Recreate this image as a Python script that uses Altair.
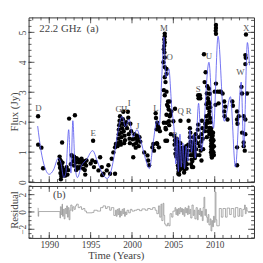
import altair as alt
import pandas as pd

# ---------------- data ----------------
obs_1988_1990 = [(1988.65, 2.20), (1988.66, 1.25), (1989.05, 1.15), (1989.25, 0.46)]

obs_1991_1992 = [(1991.25, 0.85), (1991.3, 0.75), (1991.4, 0.70), (1991.5, 0.62), (1991.35, 0.55),
                 (1991.3, 0.48), (1991.55, 0.50), (1991.45, 0.40), (1991.7, 0.42), (1991.35, 0.30),
                 (1991.8, 0.32), (1991.9, 0.36), (1991.75, 0.22), (1991.45, 0.20), (1991.95, 0.22),
                 (1991.4, 0.09), (1991.55, 1.32), (1991.6, 0.65), (1991.2, 0.62), (1992.1, 0.50),
                 (1992.3, 0.40), (1992.2, 0.25)]

obs_1992_1994 = [(1992.4, 2.12), (1993.1, 2.23), (1992.7, 0.90), (1992.8, 0.85), (1993.0, 0.85),
                 (1993.1, 0.75), (1993.3, 0.80), (1993.5, 0.75), (1993.2, 0.65), (1993.6, 0.65),
                 (1993.8, 0.70), (1993.9, 0.78), (1994.0, 0.60), (1994.2, 0.70), (1994.3, 0.62),
                 (1993.7, 0.50), (1994.1, 0.45), (1994.3, 0.40), (1994.35, 0.25), (1993.0, 0.55),
                 (1993.4, 0.50), (1992.9, 0.70), (1994.5, 0.72), (1993.55, 0.46), (1993.25, 0.40),
                 (1994.45, 0.55), (1992.6, 0.60)]

obs_1995_1998 = [(1995.3, 1.38), (1995.0, 0.62), (1995.6, 0.67), (1995.4, 0.50), (1995.95, 0.39),
                 (1996.35, 0.50), (1996.15, 0.83), (1996.55, 0.28), (1996.95, 0.39), (1997.15, 0.56),
                 (1997.35, 0.28), (1997.55, 0.78), (1997.75, 0.99), (1997.95, 1.16), (1998.05, 1.27),
                 (1997.95, 0.28), (1996.4, 0.23), (1995.2, 0.72)]

obs_1998_2000 = [(1998.3, 1.30), (1998.35, 1.45), (1998.4, 1.60), (1998.4, 1.75), (1998.45, 1.90),
                 (1998.5, 2.05), (1998.55, 2.20), (1998.6, 1.35), (1998.7, 1.50), (1998.75, 1.65),
                 (1998.8, 1.80), (1998.85, 1.95), (1998.9, 2.10), (1998.95, 2.35), (1999.0, 1.70),
                 (1999.1, 1.55), (1999.15, 1.40), (1999.2, 1.90), (1999.3, 2.00), (1999.4, 1.80),
                 (1999.5, 2.35), (1999.55, 2.15), (1999.6, 1.60), (1999.7, 1.45), (1999.75, 1.30),
                 (1999.8, 1.95), (1999.9, 1.70), (1998.25, 1.20), (1998.65, 1.25), (1999.05, 1.30),
                 (2000.1, 1.43), (2000.15, 0.83)]

obs_2000_2003 = [(2000.3, 1.60), (2000.4, 1.45), (2000.5, 1.30), (2000.6, 1.55), (2000.7, 1.40),
                 (2000.8, 1.20), (2000.9, 1.50), (2001.0, 1.35), (2000.45, 1.15), (2000.2, 1.25),
                 (2001.48, 0.99), (2001.87, 0.89), (2001.95, 0.72), (2002.07, 0.56), (2002.46, 1.16),
                 (2002.58, 1.27), (2002.66, 1.05), (2002.86, 2.30), (2002.9, 2.14), (2003.05, 1.98),
                 (2003.14, 1.87), (2003.25, 1.81), (2002.98, 1.76), (2003.37, 1.70), (2003.05, 1.27),
                 (2003.25, 1.16), (2003.0, 1.30)]

obs_2003_2005 = [(2003.96, 4.96), (2003.96, 4.87), (2003.9, 4.76), (2003.96, 4.66), (2003.9, 4.55),
                 (2003.85, 4.44), (2003.92, 4.33), (2003.96, 4.16), (2003.8, 4.00), (2003.96, 3.84),
                 (2004.17, 3.78), (2004.17, 3.62), (2003.96, 3.50), (2004.05, 3.34), (2003.85, 3.07),
                 (2003.96, 2.90), (2004.17, 3.02), (2004.36, 2.69), (2004.56, 2.69), (2004.36, 2.52),
                 (2004.76, 2.36), (2004.56, 2.20), (2004.17, 2.25), (2004.46, 2.03), (2004.17, 1.98),
                 (2004.1, 1.76), (2004.24, 1.38), (2004.04, 1.38), (2004.24, 2.58), (2004.44, 2.42),
                 (2004.64, 2.25), (2005.2, 2.45), (2003.85, 1.98), (2004.05, 1.81), (2005.0, 2.03),
                 (2004.5, 1.90), (2004.7, 1.60)]

obs_2005_2008 = [(2005.86, 2.05), (2006.84, 2.05),
                 (2005.1, 1.55), (2005.2, 1.40), (2005.15, 1.25), (2005.3, 1.10), (2005.25, 0.95),
                 (2005.35, 0.85), (2005.3, 1.30), (2005.4, 1.45),
                 (2005.5, 1.35), (2005.55, 1.20), (2005.5, 1.05), (2005.6, 0.95), (2005.55, 0.85),
                 (2005.6, 0.75), (2005.65, 0.65), (2005.55, 0.55), (2005.6, 0.45), (2005.65, 0.35),
                 (2005.6, 0.28), (2005.7, 0.25), (2005.75, 0.40), (2005.8, 0.55), (2005.75, 0.70),
                 (2005.85, 0.85), (2005.8, 1.00), (2005.9, 1.15), (2005.85, 1.30), (2005.95, 0.75),
                 (2006.0, 0.60), (2006.05, 0.90), (2005.95, 0.45), (2006.1, 1.10), (2005.7, 1.10),
                 (2005.65, 0.95),
                 (2006.2, 1.15), (2006.25, 1.00), (2006.2, 0.85), (2006.3, 0.70), (2006.25, 0.55),
                 (2006.35, 0.42), (2006.3, 0.32), (2006.4, 0.50), (2006.45, 0.65), (2006.4, 0.80),
                 (2006.5, 0.95), (2006.45, 1.10), (2006.55, 1.20), (2006.6, 0.75), (2006.65, 0.60),
                 (2006.7, 0.90), (2006.75, 1.05), (2006.8, 1.25), (2006.6, 0.45),
                 (2007.0, 1.80), (2007.05, 1.65), (2007.0, 1.50), (2007.1, 1.35), (2007.05, 1.20),
                 (2007.15, 1.05), (2007.1, 0.90), (2007.2, 0.75), (2007.15, 0.60), (2007.25, 0.50),
                 (2007.3, 0.70), (2007.35, 0.90), (2007.3, 1.10), (2007.4, 1.30), (2007.45, 1.50),
                 (2007.5, 1.20), (2007.55, 1.00), (2007.6, 0.80), (2007.65, 1.40), (2007.7, 1.60),
                 (2007.75, 1.10), (2007.8, 0.90), (2007.4, 0.50)]

obs_2008_2009 = [(2008.0, 2.90), (2008.05, 2.80), (2008.2, 2.90), (2008.25, 2.80), (2008.0, 1.92),
                 (2008.4, 1.60), (2008.6, 1.10), (2008.4, 0.72), (2007.9, 1.30), (2008.1, 1.50),
                 (2008.2, 1.20), (2008.3, 1.05), (2008.15, 0.90), (2008.35, 1.35), (2008.5, 1.80),
                 (2008.55, 1.45), (2008.45, 2.05), (2007.95, 1.75),
                 (2008.7, 4.27), (2008.9, 3.67), (2008.78, 3.34), (2009.05, 2.96), (2009.3, 3.12),
                 (2009.17, 2.80), (2009.37, 2.63), (2009.17, 2.47), (2009.37, 2.36), (2008.97, 2.20),
                 (2009.45, 2.14), (2009.17, 1.98), (2009.37, 1.81), (2008.97, 1.84), (2008.78, 1.70),
                 (2009.37, 1.60), (2009.0, 2.60), (2009.1, 3.20), (2009.25, 2.70), (2009.3, 2.25),
                 (2009.1, 2.05), (2009.2, 1.70), (2009.05, 1.50), (2008.85, 1.95), (2009.45, 2.50),
                 (2009.4, 2.95)]

obs_2009_2010 = [(2009.55, 1.80), (2009.6, 1.70), (2009.55, 1.60), (2009.6, 1.50), (2009.55, 1.40),
                 (2009.6, 1.30), (2009.55, 1.20), (2009.6, 1.10), (2009.55, 1.00), (2009.6, 0.90),
                 (2009.7, 0.85), (2009.75, 0.95), (2009.7, 1.05), (2009.75, 1.15), (2009.7, 1.25),
                 (2009.75, 1.35), (2009.7, 1.45), (2009.75, 1.55), (2009.8, 1.65), (2009.85, 1.00),
                 (2009.9, 1.20), (2009.85, 1.40), (2009.9, 0.90), (2009.5, 2.00), (2009.65, 0.82),
                 (2010.15, 5.25), (2010.15, 5.15), (2010.12, 5.05), (2010.15, 4.95), (2010.15, 3.29),
                 (2010.35, 3.02), (2010.6, 3.02), (2010.0, 3.02), (2010.47, 2.63), (2010.75, 3.02),
                 (2010.95, 2.96), (2010.1, 2.58)]

obs_2011_2014 = [(2011.15, 2.69), (2011.27, 2.52), (2011.15, 2.36), (2011.54, 2.09), (2012.13, 2.69),
                 (2012.9, 2.20), (2013.23, 3.18), (2013.3, 2.96), (2013.5, 2.20), (2013.31, 1.65),
                 (2013.5, 1.32), (2013.5, 1.20), (2013.63, 1.05), (2013.7, 4.24), (2013.75, 4.15),
                 (2013.7, 3.94), (2013.78, 4.93), (2013.9, 2.96), (2012.7, 0.56), (2012.7, 2.36),
                 (2012.7, 2.09), (2012.7, 1.16), (2013.7, 2.09), (2013.7, 1.60), (2012.2, 2.55),
                 (2011.2, 2.20), (2012.75, 1.95)]

model_year = [1988.6, 1989.0, 1989.45, 1990.0, 1990.5, 1991.1, 1991.4, 1991.75, 1992.0, 1992.35,
              1992.55, 1992.62, 1992.85, 1993.1, 1993.4, 1993.9, 1994.5, 1995.25, 1995.8, 1996.4,
              1997.0, 1997.4, 1997.8, 1998.3, 1998.8, 1999.2, 1999.65, 2000.1, 2000.6, 2001.0,
              2001.6, 2002.1, 2002.6, 2003.0, 2003.3, 2003.6, 2003.85, 2004.1, 2004.45, 2004.8,
              2005.15, 2005.3, 2005.45, 2005.6, 2005.8, 2005.95, 2006.15, 2006.35, 2006.55, 2006.75,
              2007.0, 2007.2, 2007.45, 2007.65, 2008.05, 2008.4, 2009.3, 2009.85, 2010.4, 2011.15,
              2011.9, 2012.5, 2013.2, 2013.5, 2013.95, 2014.2]
model_flux = [1.87, 1.05, 0.50, 0.26, 0.40, 0.80, 0.65, 0.15, 0.30, 1.75,
              0.50, 0.30, 2.05, 0.60, 0.15, 0.55, 0.75, 1.05, 0.70, 0.30,
              0.12, 0.30, 0.80, 1.70, 2.20, 1.85, 2.10, 1.50, 1.75, 1.45,
              0.80, 0.45, 1.40, 2.05, 1.90, 3.50, 4.85, 3.50, 3.78, 2.50,
              1.50, 0.60, 1.50, 0.35, 1.60, 0.50, 1.30, 0.45, 1.20, 0.70,
              1.75, 1.00, 1.60, 0.80, 2.63, 1.05, 4.00, 1.80, 4.87, 2.03,
              2.85, 0.50, 3.34, 1.16, 4.66, 3.90]

res_year = [1988.62, 1988.66, 1988.72, 1991.25, 1991.3, 1991.35, 1991.45, 1991.55, 1991.6, 1991.7,
            1991.8, 1991.9, 1992.0, 1992.1, 1992.2, 1992.3, 1992.4, 1992.5, 1992.6, 1992.75,
            1992.85, 1993.0, 1993.15, 1993.3, 1993.5, 1993.7, 1993.9, 1994.1, 1994.3, 1994.5,
            1995.2, 1995.4, 1995.8, 1996.2, 1996.5, 1996.8, 1997.0, 1997.3, 1997.5, 1997.8,
            1998.0, 1998.1, 1998.2, 1998.3, 1998.4, 1998.5, 1998.6, 1998.7, 1998.8, 1998.9,
            1999.0, 1999.1, 1999.2, 1999.3, 1999.4, 1999.6, 1999.8, 2000.0, 2000.3, 2000.6,
            2000.9, 2001.2, 2001.6, 2001.9, 2002.2, 2002.5, 2002.8, 2003.0, 2003.2, 2003.35,
            2003.5, 2003.6, 2003.75, 2003.85, 2003.95, 2004.1, 2004.3, 2004.45, 2004.6, 2004.8,
            2004.95, 2005.2, 2005.3, 2005.4, 2005.5, 2005.6, 2005.7, 2005.8, 2005.9, 2006.0,
            2006.1, 2006.2, 2006.3, 2006.4, 2006.5, 2006.6, 2006.7, 2006.8, 2006.9, 2007.0,
            2007.1, 2007.25, 2007.4, 2007.5, 2007.6, 2007.75, 2007.9, 2008.0, 2008.1, 2008.2,
            2008.3, 2008.4, 2008.5, 2008.6, 2008.7, 2008.8, 2008.9, 2009.0, 2009.1, 2009.2,
            2009.3, 2009.45, 2009.55, 2009.65, 2009.75, 2009.85, 2009.95, 2010.05, 2010.15, 2010.25,
            2010.55, 2010.8, 2011.0, 2011.3, 2011.5, 2011.8, 2012.0, 2012.3, 2012.5, 2012.8,
            2013.0, 2013.2, 2013.4, 2013.6, 2013.7, 2013.8, 2013.9, 2014.0]
res_val = [0.45, -0.5, 0.05, 0.05, -0.7, 0.6, -0.3, 0.9, -0.5, 0.3,
           -0.8, 0.4, -0.2, 0.7, -0.6, 0.5, -0.9, 0.2, 0.8, 0.1,
           0.6, 0.3, 0.7, 0.9, 0.5, 0.6, 0.3, 0.4, 0.1, -0.1,
           -0.05, 0.2, 0.1, 0.5, 0.7, 0.4, 0.6, 0.2, 0.5, -0.4,
           0.2, -0.5, 0.3, -0.3, 0.4, -0.6, 0.1, -0.4, 0.3, -0.2,
           0.4, -0.5, 0.0, -0.3, 0.2, -0.1, 0.3, 0.1, 0.2, 0.3,
           0.15, 0.35, 0.2, 0.4, 0.3, 0.5, 0.2, -0.2, 0.7, -0.6,
           0.9, -1.0, 1.0, -0.4, -1.4, -1.6, -1.3, -1.6, -0.2, -0.6,
           0.1, 0.5, -0.3, 0.3, -0.4, 0.4, -0.2, 0.5, 0.0, 0.4,
           -0.3, 0.3, -0.5, 0.5, -0.1, 0.4, -0.3, 0.7, -0.2, 0.3,
           -0.7, 0.8, -0.4, 0.2, -0.8, 0.5, -0.9, 0.2, -0.3, 0.4,
           -0.5, 0.1, -1.0, 0.5, 1.7, -0.4, 0.3, -0.6, -1.2, -0.3,
           -1.5, -0.8, -2.2, -1.0, -1.7, -0.5, -1.2, 2.3, -0.9, -1.6,
           0.4, -0.6, 0.4, -0.6, 0.45, -0.3, 0.4, -0.6, 0.5, -0.5,
           0.4, -0.5, 0.3, 0.8, -0.2, 0.5, 0.1, 0.1]

lab_text = ["D", "E", "G", "H", "I", "J", "L", "M", "O", "P", "Q", "R", "S", "U", "W", "X"]
lab_year = [1988.7, 1995.3, 1998.4, 1999.05, 1999.65, 2000.7, 2002.9, 2003.85, 2004.55, 2005.15,
            2005.9, 2006.85, 2008.0, 2009.3, 2013.1, 2013.8]
lab_flux = [2.46, 1.65, 2.45, 2.45, 2.65, 1.87, 2.47, 5.15, 4.16, 1.57,
            2.36, 2.38, 3.12, 4.22, 3.67, 5.15]

panel_a_text = ["22.2 GHz\u00a0\u00a0(a)"]
panel_b_text = ["(b)"]

x_major = [1990, 1995, 2000, 2005, 2010]
x_minor = list(range(1988, 2015))
y_top_major = [0, 1, 2, 3, 4, 5]
y_top_minor = [round(0.2 * i, 1) for i in range(28)]
y_bot_major = [-2, 0, 2]
y_bot_minor = [-3 + 0.5 * i for i in range(13)]

# ---------------- styles ----------------
W, H1, H2 = 230, 168, 53
FONT = "Liberation Serif"
INK = "#333333"
TXT = "#444444"
BLUE = "#5050ee"

xs = alt.Scale(domain=[1987.5, 2014.75], nice=False, zero=False)
ys_top = alt.Scale(domain=[0, 5.5], nice=False, zero=False)
ys_bot = alt.Scale(domain=[-3, 3], nice=False, zero=False)


def y_axis(values, title, tx, ty):
    return alt.Axis(values=values, format="d", title=title, ticks=False, domain=False, grid=False,
                    labelAngle=270, labelAlign="center", labelBaseline="bottom", labelPadding=1.5,
                    labelFont=FONT, labelFontSize=9.5, labelColor=TXT,
                    titleFont=FONT, titleFontSize=11, titleFontWeight="normal", titleColor=TXT,
                    titleAngle=270, titleX=tx, titleY=ty, titleAlign="center", titleBaseline="middle")


AX_Y_TOP = y_axis(y_top_major, "Flux (Jy)", -14, 96)
AX_Y_BOT = y_axis(y_bot_major, "Residual", -14, 24)
AX_X_BOT = alt.Axis(values=x_major, format="d", ticks=False, domain=False, grid=False,
                    labelFont=FONT, labelFontSize=9.5, labelColor=TXT, labelPadding=2,
                    title="Time (Years)", titleFont=FONT, titleFontSize=11,
                    titleFontWeight="normal", titleColor=TXT, titleX=89, titleY=18,
                    titleAlign="center", titleBaseline="middle")


def obs_frame():
    rows = []
    for grp in [obs_1988_1990, obs_1991_1992, obs_1992_1994, obs_1995_1998, obs_1998_2000,
                obs_2000_2003, obs_2003_2005, obs_2005_2008, obs_2008_2009, obs_2009_2010,
                obs_2011_2014]:
        rows.extend(grp)
    return pd.DataFrame(rows, columns=["year", "flux"])


def x_ticks(H, xaxis):
    layers = []
    for vals, L in [(x_minor, 3), (x_major, 6)]:
        base = alt.Chart(pd.DataFrame({"year": vals}))
        layers.append(base.mark_rule(color=INK, strokeWidth=0.8).encode(
            x=alt.X("year:Q", scale=xs, axis=xaxis), y=alt.value(H), y2=alt.value(H - L)))
        layers.append(base.mark_rule(color=INK, strokeWidth=0.8).encode(
            x=alt.X("year:Q", scale=xs, axis=xaxis), y=alt.value(0), y2=alt.value(L)))
    return layers


def y_ticks(minor, major, ys, yaxis, field):
    layers = []
    for vals, L in [(minor, 3), (major, 6)]:
        base = alt.Chart(pd.DataFrame({field: vals}))
        layers.append(base.mark_rule(color=INK, strokeWidth=0.8).encode(
            y=alt.Y(f"{field}:Q", scale=ys, axis=yaxis), x=alt.value(0), x2=alt.value(L)))
        layers.append(base.mark_rule(color=INK, strokeWidth=0.8).encode(
            y=alt.Y(f"{field}:Q", scale=ys, axis=yaxis), x=alt.value(W), x2=alt.value(W - L)))
    return layers


# ---------------- top panel ----------------
obs = obs_frame()
pts = alt.Chart(obs).mark_circle(color="black", opacity=1, size=20).encode(
    x=alt.X("year:Q", scale=xs, axis=None),
    y=alt.Y("flux:Q", scale=ys_top, axis=AX_Y_TOP))

model = alt.Chart(pd.DataFrame({"year": model_year, "flux": model_flux})).mark_line(
    color=BLUE, strokeWidth=0.8, interpolate="monotone").encode(
    x=alt.X("year:Q", scale=xs, axis=None),
    y=alt.Y("flux:Q", scale=ys_top, axis=AX_Y_TOP))

labels = alt.Chart(pd.DataFrame({"year": lab_year, "flux": lab_flux, "lab": lab_text})).mark_text(
    font=FONT, fontSize=9, color="#555555").encode(
    x=alt.X("year:Q", scale=xs, axis=None),
    y=alt.Y("flux:Q", scale=ys_top, axis=AX_Y_TOP),
    text=alt.Text("lab:N"))

tag_a = alt.Chart(pd.DataFrame({"tag": panel_a_text})).mark_text(
    font=FONT, fontSize=11, color=TXT, align="left", baseline="middle").encode(
    x=alt.value(11), y=alt.value(12), text=alt.Text("tag:N"))

top = alt.layer(pts, model, labels, tag_a, *x_ticks(H1, None),
                *y_ticks(y_top_minor, y_top_major, ys_top, AX_Y_TOP, "flux")).properties(width=W, height=H1)

# ---------------- bottom panel ----------------
res = alt.Chart(pd.DataFrame({"year": res_year, "res": res_val})).mark_line(
    color="#8a8a8a", strokeWidth=0.7, interpolate="step-after").encode(
    x=alt.X("year:Q", scale=xs, axis=AX_X_BOT),
    y=alt.Y("res:Q", scale=ys_bot, axis=AX_Y_BOT))

tag_b = alt.Chart(pd.DataFrame({"tag": panel_b_text})).mark_text(
    font=FONT, fontSize=11, color=TXT, align="left", baseline="middle").encode(
    x=alt.value(25), y=alt.value(9), text=alt.Text("tag:N"))

bottom = alt.layer(res, tag_b, *x_ticks(H2, AX_X_BOT),
                   *y_ticks(y_bot_minor, y_bot_major, ys_bot, AX_Y_BOT, "res")).properties(width=W, height=H2)

chart = alt.vconcat(top, bottom, spacing=0).properties(
    padding={"left": 0, "top": 6, "right": 0, "bottom": 0},
).configure_view(stroke=INK, strokeWidth=1)

chart.save("out.html", embed_options={"renderer": "svg", "actions": False})
